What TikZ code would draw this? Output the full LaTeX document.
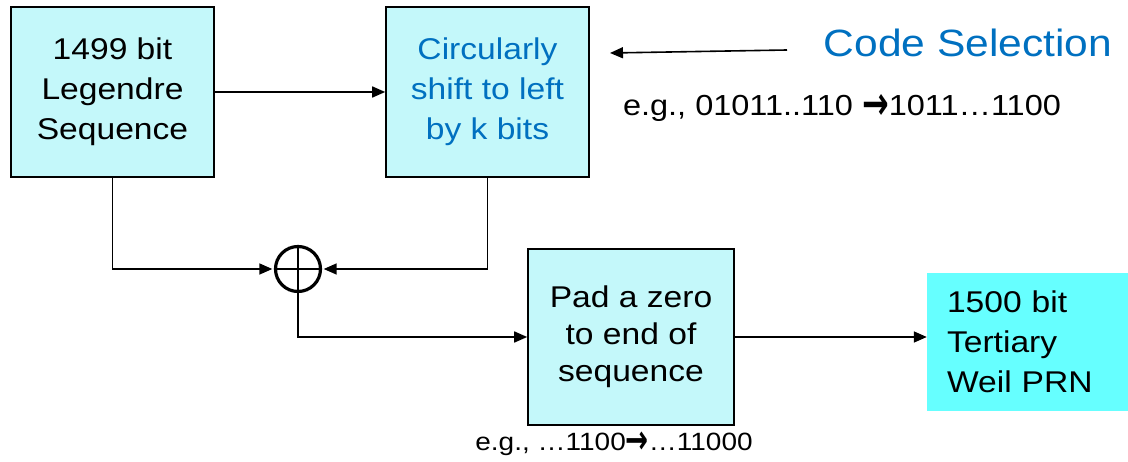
\documentclass[tikz,border=0pt]{standalone}
\usepackage{fontspec}
\setmainfont[FakeStretch=1.12]{Liberation Sans}
\newfontfamily\arrfont{DejaVu Sans}
\usetikzlibrary{arrows.meta}
\definecolor{boxfill}{RGB}{196,248,250}
\definecolor{prnfill}{RGB}{102,255,255}
\definecolor{selblue}{RGB}{0,112,192}
\newcommand{\toarr}{\raisebox{-0.12em}{\scalebox{1.1}[1.6]{\arrfont\bfseries →}}}

\begin{document}
\begin{tikzpicture}[x=1pt,y=-1pt,
  blk/.style={draw,line width=1.6pt,fill=boxfill,minimum width=203pt,minimum height=170pt,
    inner sep=0pt,align=center,font=\fontsize{30}{40}\selectfont},
  conn/.style={line width=1.6pt},
  arr/.style={conn,-{Triangle[length=13pt,width=11pt]}}]
\useasboundingbox (0,0) rectangle (1128,462);
\node[blk] (legendre) at (112.5,92) {1499 bit\\Legendre\\Sequence};
\node[blk,text=selblue] (shift) at (487.5,92) {Circularly\\shift to left\\by k bits};
\node[blk,minimum width=206pt,minimum height=176pt,font=\fontsize{30}{37}\selectfont] (pad) at (631,337) {Pad a zero\\to end of\\sequence};
\node[fill=prnfill,minimum height=138pt,text width=161pt,inner xsep=20pt,align=left,
  font=\fontsize{30}{40}\selectfont] (prn) at (1027.5,342) {1500 bit\\Tertiary\\Weil PRN};
\node[circle,draw,line width=3.2pt,minimum size=45pt] (xor) at (298,269) {};
\draw[line width=2.8pt] (xor.north)--(xor.south) (xor.west)--(xor.east);

\node[text=selblue,font=\fontsize{38}{44}\selectfont] (codesel) at (968,43) {Code Selection};
\node[font=\fontsize{29}{35}\selectfont] (shiftex) at (842,108) {e.g., 01011..110 \toarr1011…1100};
\node[font=\fontsize{25}{29}\selectfont] (padex) at (614,444) {e.g., …1100\toarr…11000};

\coordinate (selstart) at (787,50);
\coordinate (selend) at (610,53);
\draw[arr] (selstart)--(selend);

\draw[arr] (legendre.east)--(shift.west);
\draw[arr,shorten >=1.6pt] (legendre.south)|-(xor.west);
\draw[arr,shorten >=1.6pt] (shift.south)|-(xor.east);
\draw[arr] (xor.south)|-(pad.west);
\draw[arr] (pad.east)--(pad.east -| prn.west);
\end{tikzpicture}
\end{document}
